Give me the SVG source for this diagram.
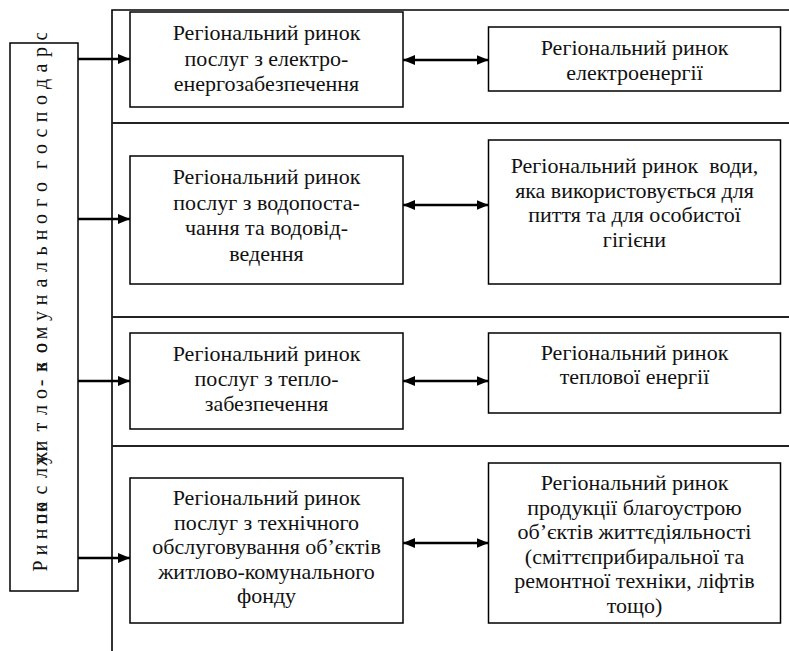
<svg xmlns="http://www.w3.org/2000/svg" width="789" height="651" viewBox="0 0 789 651">
<style>
.box{fill:#fff;stroke:#000;stroke-width:1.5}
.t{font-family:'Liberation Serif','Times New Roman',serif;font-size:22px;fill:#111;text-anchor:middle}
.v{font-family:'Liberation Serif','Times New Roman',serif;font-size:20px;fill:#111;text-anchor:middle}
.frame{stroke:#000;stroke-width:1.6;fill:none}
.sep{stroke:#222;stroke-width:2;fill:none}
.arr{stroke:#000;stroke-width:2.5;fill:none}
</style>
<defs>
<marker id="ah" viewBox="0 0 12 10" refX="12" refY="5" markerWidth="12" markerHeight="10" markerUnits="userSpaceOnUse" orient="auto-start-reverse"><path d="M0,0 L12,5 L0,10 z" fill="#000"/></marker>
<clipPath id="vclip"><rect x="0" y="33" width="110" height="618"/></clipPath>
</defs>
<rect width="789" height="651" fill="#fff"/>
<g id="frame">
<path class="frame" d="M112,651 V10 H789"/>
<path class="sep" d="M112,123 H789 M112,317 H789 M112,446 H789"/>
</g>
<g id="root">
<rect class="box" x="10" y="43" width="68" height="548"/>
<g clip-path="url(#vclip)">
<text class="v" transform="translate(47,0) rotate(-90)" x="-566 -550 -534 -519 -507">Ринок</text>
<text class="v" transform="translate(47,0) rotate(-90)" x="-519 -507 -490 -473 -459 -447">послуг</text>
<text class="v" transform="translate(47,0) rotate(-90)" x="-459 -446 -427 -410 -394 -367 -348 -383">житлово-</text>
<text class="v" transform="translate(47,0) rotate(-90)" x="-367 -348 -333 -316 -300 -283 -267 -251 -235 -219 -203 -187">комунального</text>
<text class="v" transform="translate(47,0) rotate(-90)" x="-165 -149 -133 -117 -100 -84 -68 -52 -36 -20 -5 10">господарства</text>
</g>
</g>
<g id="n1">
<rect class="box" x="130" y="12" width="273" height="95"/>
<text class="t" x="266.5" y="40">Регіональний ринок</text>
<text class="t" x="266.5" y="65.5">послуг з електро-</text>
<text class="t" x="266.5" y="91">енергозабезпечення</text>
</g>
<g id="m1">
<rect class="box" x="488.5" y="27" width="292" height="64"/>
<text class="t" x="634.5" y="55">Регіональний ринок</text>
<text class="t" x="634.5" y="80">електроенергії</text>
</g>
<g id="n2">
<rect class="box" x="130" y="156" width="273" height="128"/>
<text class="t" x="266.5" y="184">Регіональний ринок</text>
<text class="t" x="266.5" y="209.5">послуг з водопоста-</text>
<text class="t" x="266.5" y="235">чання та водовід-</text>
<text class="t" x="266.5" y="260.5">ведення</text>
</g>
<g id="m2">
<rect class="box" x="488.5" y="140" width="292" height="144"/>
<text class="t" x="634.5" y="173" xml:space="preserve">Регіональний ринок  води,</text>
<text class="t" x="634.5" y="197.5">яка використовується для</text>
<text class="t" x="634.5" y="222">пиття та для особистої</text>
<text class="t" x="634.5" y="246.5">гігієни</text>
</g>
<g id="n3">
<rect class="box" x="130" y="333" width="273" height="96"/>
<text class="t" x="266.5" y="361">Регіональний ринок</text>
<text class="t" x="266.5" y="386">послуг з тепло-</text>
<text class="t" x="266.5" y="411">забезпечення</text>
</g>
<g id="m3">
<rect class="box" x="488.5" y="333" width="292" height="80"/>
<text class="t" x="634.5" y="360">Регіональний ринок</text>
<text class="t" x="634.5" y="384">теплової енергії</text>
</g>
<g id="n4">
<rect class="box" x="130" y="478" width="273" height="145"/>
<text class="t" x="266.5" y="505">Регіональний ринок</text>
<text class="t" x="266.5" y="529.5">послуг з технічного</text>
<text class="t" x="266.5" y="554">обслуговування об’єктів</text>
<text class="t" x="266.5" y="578.5">житлово-комунального</text>
<text class="t" x="266.5" y="603">фонду</text>
</g>
<g id="m4">
<rect class="box" x="488.5" y="463" width="292" height="160"/>
<text class="t" x="634.5" y="490">Регіональний ринок</text>
<text class="t" x="634.5" y="514.5">продукції благоустрою</text>
<text class="t" x="634.5" y="539">об’єктів життєдіяльності</text>
<text class="t" x="634.5" y="563.5">(сміттєприбиральної та</text>
<text class="t" x="634.5" y="588">ремонтної техніки, ліфтів</text>
<text class="t" x="634.5" y="612.5">тощо)</text>
</g>
<g id="connectors">
<path class="arr" d="M78,59 H130" marker-end="url(#ah)"/>
<path class="arr" d="M78,219 H130" marker-end="url(#ah)"/>
<path class="arr" d="M78,381 H130" marker-end="url(#ah)"/>
<path class="arr" d="M78,558 H130" marker-end="url(#ah)"/>
<path class="arr" d="M403,60 H488.5" marker-start="url(#ah)" marker-end="url(#ah)"/>
<path class="arr" d="M403,205 H488.5" marker-start="url(#ah)" marker-end="url(#ah)"/>
<path class="arr" d="M403,381 H488.5" marker-start="url(#ah)" marker-end="url(#ah)"/>
<path class="arr" d="M403,543 H488.5" marker-start="url(#ah)" marker-end="url(#ah)"/>
</g>
</svg>
